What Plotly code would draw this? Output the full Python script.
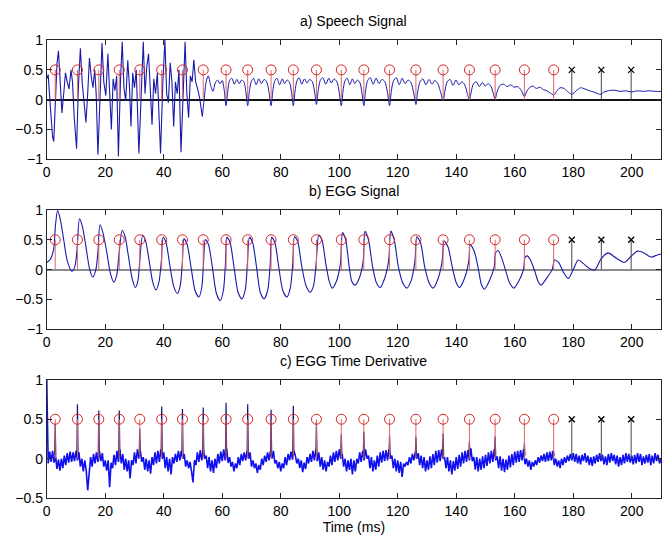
import plotly.graph_objects as go

# ---------------- data ----------------
gci_t = [2.9, 10.5, 17.8, 24.8, 31.8, 39.3, 46.4, 53.5, 61.3, 68.7, 76.7, 84.3, 92.2,
         100.7, 108.4, 117.2, 126.2, 135.5, 144.5, 153.3, 163.3, 173.3]
missed_t = [179.5, 189.6, 199.8]
mark_level = 0.5

# a) speech signal, irregular high-amplitude part
speech_early = [
    (0.0, 0.35), (0.5, 0.42), (1.2, -0.1), (2.0, -0.62), (2.4, -0.7), (3.0, 0.1), (3.5, 0.6),
    (4.0, 0.82), (4.6, 0.3), (5.2, -0.22), (5.8, 0.1), (6.4, 0.45), (7.0, 0.3), (7.6, 0.18),
    (8.3, 0.5), (8.8, 0.3), (9.4, -0.3), (10.2, -0.82), (10.8, 0.2), (11.5, 0.86), (12.1, 0.3),
    (12.8, -0.05), (13.4, -0.38), (14.0, 0.1), (14.6, 0.7), (15.2, 0.4), (15.8, 0.2), (16.4, 0.5),
    (16.9, 0.1), (17.5, -0.92), (18.2, 0.2), (18.9, 0.95), (19.5, 0.3), (20.2, 0.07), (20.9, 0.77),
    (21.5, 0.2), (22.1, -0.5), (22.7, 0.35), (23.3, 0.15), (23.9, 0.4), (24.5, -0.95), (25.2, 0.3),
    (25.8, 0.97), (26.4, 0.2), (27.0, -0.02), (27.7, 0.66), (28.3, 0.2), (28.8, -0.45), (29.4, 0.45),
    (30.0, 0.2), (30.6, 0.5), (31.5, -0.9), (32.3, 0.3), (33.0, 0.97), (33.6, 0.1), (34.2, 0.55),
    (34.8, 0.77), (35.4, 0.1), (36.0, -0.42), (36.6, 0.35), (37.2, 0.1), (37.8, 0.45), (38.9, -0.9),
    (39.7, 0.3), (40.4, 1.0), (41.0, 0.1), (41.6, -0.05), (42.2, 0.62), (42.8, 0.3), (43.4, -0.45),
    (44.0, 0.3), (44.6, 0.1), (45.2, 0.5), (45.9, -0.88), (46.6, 0.2), (47.3, 0.97), (47.9, 0.1),
    (48.5, -0.3), (49.1, 0.4), (49.7, 0.3), (50.3, 0.67), (50.9, 0.3), (51.5, 0.2), (52.2, 0.05),
    (52.8, -0.15), (53.2, -0.28),
]

# a) speech signal, quasi-periodic part
speech_late = [
    (53.2, -0.28), (53.8, 0.0), (54.5, 0.3), (55.2, 0.4), (56.0, 0.25), (56.8, 0.14), (57.6, 0.28),
    (58.4, 0.33), (59.2, 0.27), (60.0, 0.32), (60.7, 0.15), (61.3, -0.1),
    (61.9, 0.15), (62.5, 0.32), (63.3, 0.36), (64.1, 0.26), (65.0, 0.34), (65.8, 0.27), (66.6, 0.33),
    (67.4, 0.3), (68.1, 0.12), (68.7, -0.1),
    (69.3, 0.15), (69.9, 0.3), (70.7, 0.36), (71.6, 0.25), (72.5, 0.35), (73.4, 0.27), (74.3, 0.34),
    (75.2, 0.3), (76.0, 0.12), (76.7, -0.1),
    (77.3, 0.15), (77.9, 0.31), (78.7, 0.36), (79.6, 0.25), (80.5, 0.35), (81.3, 0.27), (82.2, 0.33),
    (83.0, 0.29), (83.7, 0.12), (84.3, -0.1),
    (84.9, 0.15), (85.5, 0.31), (86.3, 0.37), (87.2, 0.26), (88.1, 0.35), (89.0, 0.28), (89.9, 0.34),
    (90.8, 0.3), (91.6, 0.12), (92.2, -0.08),
    (92.8, 0.15), (93.5, 0.32), (94.4, 0.37), (95.4, 0.26), (96.4, 0.36), (97.3, 0.28), (98.2, 0.35),
    (99.2, 0.3), (100.0, 0.12), (100.7, -0.1),
    (101.3, 0.15), (101.9, 0.31), (102.7, 0.36), (103.6, 0.25), (104.5, 0.35), (105.3, 0.27),
    (106.2, 0.33), (107.1, 0.28), (107.8, 0.1), (108.4, -0.1),
    (109.0, 0.15), (109.7, 0.32), (110.6, 0.37), (111.6, 0.26), (112.6, 0.36), (113.6, 0.27),
    (114.6, 0.34), (115.6, 0.3), (116.5, 0.12), (117.2, -0.1),
    (117.8, 0.14), (118.5, 0.31), (119.5, 0.37), (120.5, 0.25), (121.5, 0.36), (122.5, 0.27),
    (123.5, 0.33), (124.5, 0.29), (125.5, 0.1), (126.2, -0.08),
    (126.8, 0.13), (127.6, 0.3), (128.6, 0.35), (129.6, 0.25), (130.7, 0.34), (131.7, 0.26),
    (132.7, 0.32), (133.7, 0.27), (134.8, 0.1), (135.5, -0.02),
    (136.1, 0.14), (136.9, 0.3), (137.9, 0.34), (138.9, 0.24), (139.9, 0.33), (140.9, 0.25),
    (141.9, 0.3), (142.9, 0.25), (143.8, 0.1), (144.5, 0.0),
    (145.1, 0.13), (145.9, 0.27), (146.9, 0.3), (147.9, 0.22), (148.9, 0.29), (149.9, 0.23),
    (150.9, 0.27), (151.9, 0.22), (152.7, 0.1), (153.3, 0.01),
    (154.0, 0.14), (155.0, 0.24), (156.2, 0.26), (157.4, 0.22), (158.6, 0.25), (159.8, 0.21),
    (161.0, 0.22), (162.2, 0.16), (163.3, 0.05),
    (164.0, 0.13), (165.0, 0.2), (166.2, 0.23), (167.4, 0.19), (168.6, 0.21), (169.8, 0.17),
    (171.0, 0.15), (172.2, 0.11), (173.3, 0.08),
    (174.3, 0.14), (175.5, 0.2), (176.8, 0.19), (178.0, 0.14), (179.5, 0.09), (181.0, 0.15),
    (182.5, 0.2), (184.0, 0.18), (185.5, 0.15), (187.0, 0.13), (188.5, 0.1), (189.5, 0.09),
    (190.5, 0.13), (192.0, 0.15), (194.0, 0.16), (196.0, 0.14), (198.0, 0.15), (200.0, 0.13),
    (202.0, 0.15), (204.0, 0.14), (206.0, 0.15), (208.0, 0.14), (210.0, 0.14),
]

# b) EGG signal
egg = [
    (0.0, 0.12), (0.8, 0.15), (1.5, 0.2), (2.4, 0.35), (3.0, 0.75), (3.7, 0.99), (4.6, 0.85),
    (5.8, 0.5), (7.0, 0.15), (8.6, -0.03), (9.6, 0.05), (10.3, 0.3), (11.2, 0.85), (12.2, 0.72),
    (13.5, 0.35), (14.6, 0.02), (15.7, -0.125), (16.8, 0.0), (17.5, 0.3), (18.2, 0.75), (19.2, 0.62),
    (20.5, 0.3), (21.7, -0.05), (22.9, -0.21), (23.9, -0.1), (24.6, 0.2), (25.8, 0.66), (26.8, 0.55),
    (28.0, 0.2), (29.2, -0.15), (30.3, -0.30), (31.2, -0.18), (31.8, 0.15), (32.8, 0.58), (33.8, 0.48),
    (35.0, 0.15), (36.2, -0.2), (37.3, -0.34), (38.4, -0.2), (39.2, 0.15), (39.8, 0.54), (40.8, 0.45),
    (42.0, 0.1), (43.4, -0.28), (44.7, -0.40), (45.7, -0.25), (46.4, 0.15), (46.9, 0.52), (48.0, 0.42),
    (49.3, 0.05), (50.7, -0.35), (52.0, -0.46), (53.0, -0.3), (53.6, 0.1), (54.2, 0.50), (55.3, 0.42),
    (56.6, 0.05), (58.0, -0.4), (59.3, -0.52), (60.4, -0.35), (61.1, 0.1), (61.6, 0.54), (62.7, 0.45),
    (64.0, 0.05), (65.4, -0.38), (66.7, -0.49), (67.9, -0.33), (68.6, 0.1), (69.3, 0.54), (70.4, 0.45),
    (71.7, 0.05), (73.0, -0.38), (74.3, -0.49), (75.6, -0.33), (76.4, 0.1), (76.9, 0.54), (78.0, 0.45),
    (79.3, 0.05), (80.7, -0.35), (82.1, -0.46), (83.3, -0.3), (84.1, 0.1), (84.7, 0.55), (85.8, 0.47),
    (87.2, 0.05), (88.7, -0.28), (90.1, -0.38), (91.3, -0.25), (92.1, 0.1), (93.0, 0.58), (94.1, 0.5),
    (95.4, 0.1), (96.6, -0.2), (97.6, -0.31), (99.0, -0.2), (100.4, 0.1), (101.1, 0.62), (102.2, 0.5),
    (103.4, 0.05), (104.3, -0.2), (105.4, -0.26), (106.8, -0.15), (108.2, 0.15), (108.8, 0.64),
    (110.0, 0.5), (111.4, 0.05), (112.7, -0.22), (114.0, -0.30), (115.5, -0.15), (116.9, 0.15),
    (117.6, 0.645), (118.8, 0.5), (120.2, 0.05), (121.7, -0.22), (123.1, -0.31), (124.6, -0.18),
    (125.9, 0.15), (126.5, 0.55), (127.8, 0.45), (129.2, 0.05), (130.7, -0.22), (132.1, -0.31),
    (133.8, -0.15), (135.2, 0.15), (135.8, 0.48), (137.2, 0.38), (138.6, 0.05), (140.0, -0.22),
    (141.1, -0.30), (142.8, -0.15), (144.3, 0.15), (144.8, 0.42), (146.2, 0.3), (147.6, 0.0),
    (148.6, -0.25), (149.6, -0.33), (151.2, -0.2), (153.0, 0.05), (153.4, 0.28), (154.3, 0.32),
    (155.5, 0.2), (156.8, 0.0), (158.3, -0.23), (159.7, -0.31), (161.3, -0.2), (163.0, 0.0),
    (163.5, 0.2), (164.2, 0.23), (165.5, 0.15), (167.0, -0.05), (168.0, -0.2), (169.0, -0.26),
    (170.8, -0.15), (172.8, 0.0), (173.6, 0.16), (175.0, 0.12), (176.7, -0.05), (178.3, -0.15),
    (180.0, 0.0), (181.7, 0.16), (183.5, 0.1), (185.5, 0.02), (187.4, -0.005), (189.5, 0.18),
    (191.9, 0.28), (194.5, 0.2), (197.5, 0.12), (199.7, 0.22), (202.0, 0.31), (204.5, 0.27),
    (206.5, 0.21), (208.5, 0.24), (210.0, 0.26),
]

# c) EGG time derivative: background samples every 0.5 ms from t = 0
deriv_dt = 0.5
deriv_vals = [
    1.0, -0.06, 0.09, -0.04, 0.1, -0.05, 0.04, -0.13, -0.01, -0.15, 0.0, -0.12, 0.04, -0.08, 0.07, -0.05, 0.09, -0.04, 0.08, -0.03,
    0.1, -0.02, 0.08, -0.1, 0.0, -0.16, -0.02, -0.15, -0.4, -0.12, 0.02, -0.1, 0.06, -0.06, 0.08, -0.04, 0.1, -0.03, 0.07, -0.1,
    -0.02, -0.15, -0.02, -0.36, -0.05, -0.12, 0.05, -0.08, 0.1, -0.04, 0.12, -0.06, 0.06, -0.14, 0.0, -0.16, -0.02, -0.25, -0.02, -0.08,
    0.08, -0.06, 0.12, 0.0, 0.1, -0.04, 0.02, -0.14, 0.0, -0.16, -0.02, -0.19, 0.02, -0.08, 0.08, -0.06, 0.1, -0.04, 0.12, 0.0,
    0.08, -0.12, 0.02, -0.16, 0.0, -0.2, 0.02, -0.06, 0.06, -0.04, 0.1, -0.02, 0.1, 0.0, 0.06, -0.1, -0.02, -0.12, -0.04, -0.16,
    -0.3, -0.02, -0.08, 0.08, -0.04, 0.11, -0.02, 0.12, 0.0, 0.04, -0.12, 0.02, -0.16, -0.02, -0.18, 0.0, -0.12, 0.06, -0.06, 0.09,
    -0.03, 0.12, -0.02, 0.13, -0.05, 0.02, -0.1, -0.04, -0.16, -0.06, -0.12, 0.02, -0.08, 0.06, -0.03, 0.08, -0.02, 0.1, 0.0, 0.08,
    -0.1, -0.02, -0.12, -0.06, -0.18, -0.08, -0.14, 0.0, -0.08, 0.04, -0.04, 0.08, -0.02, 0.1, 0.0, 0.1, -0.06, -0.02, -0.12, -0.04,
    -0.16, -0.06, -0.12, 0.02, -0.08, 0.06, -0.02, 0.09, -0.01, 0.1, 0.04, -0.06, 0.0, -0.12, -0.02, -0.17, -0.05, -0.13, 0.02, -0.06,
    0.06, -0.04, 0.1, -0.02, 0.12, -0.03, 0.08, -0.1, 0.02, -0.14, -0.02, -0.16, -0.04, -0.1, 0.04, -0.08, 0.08, -0.04, 0.1, -0.02,
    0.12, 0.0, 0.06, -0.1, 0.0, -0.16, -0.02, -0.14, 0.0, -0.2, -0.02, -0.16, 0.0, -0.06, 0.08, -0.04, 0.1, -0.02, 0.12, 0.0,
    0.04, -0.12, 0.02, -0.16, -0.02, -0.14, 0.04, -0.1, 0.08, -0.05, 0.1, -0.03, 0.11, -0.02, 0.12, 0.0, 0.04, -0.12, 0.0, -0.16,
    -0.02, -0.18, -0.04, -0.23, -0.06, -0.1, -0.04, -0.08, 0.02, -0.06, 0.06, -0.02, 0.08, 0.0, 0.07, -0.08, 0.04, -0.12, 0.02, -0.16,
    -0.02, -0.14, 0.03, -0.12, 0.06, -0.08, 0.1, -0.05, 0.11, -0.03, 0.12, 0.0, 0.02, -0.12, 0.02, -0.16, -0.02, -0.2, -0.03, -0.15,
    0.02, -0.13, 0.05, -0.1, 0.08, -0.06, 0.1, -0.04, 0.11, -0.02, 0.13, -0.03, 0.02, -0.14, 0.02, -0.16, 0.0, -0.14, 0.03, -0.12,
    0.05, -0.09, 0.08, -0.06, 0.1, -0.04, 0.12, -0.02, 0.03, -0.12, 0.03, -0.15, 0.0, -0.17, -0.01, -0.14, 0.04, -0.11, 0.06, -0.08,
    0.09, -0.05, 0.1, -0.04, 0.11, -0.02, 0.12, -0.07, 0.0, -0.1, -0.02, -0.14, -0.04, -0.1, -0.02, -0.08, 0.02, -0.05, 0.04, -0.03,
    0.06, -0.04, 0.08, -0.03, 0.09, -0.02, 0.1, -0.08, 0.0, -0.1, -0.02, -0.12, 0.0, -0.08, 0.02, -0.05, 0.04, -0.03, 0.06, -0.02,
    0.07, -0.04, 0.06, -0.06, 0.04, -0.07, 0.05, -0.03, 0.07, -0.05, 0.04, -0.08, 0.02, -0.09, 0.03, -0.06, 0.05, -0.04, 0.07, -0.03,
    0.05, -0.07, 0.03, -0.08, 0.06, -0.05, 0.07, -0.03, 0.05, -0.07, 0.04, -0.1, 0.02, -0.08, 0.05, -0.06, 0.07, -0.04, 0.06, -0.05,
    0.04, -0.07, 0.05, -0.06, 0.07, -0.04, 0.06, -0.08, 0.03, -0.06, 0.05, -0.05, 0.06, -0.08, 0.04, -0.06, 0.07, -0.03, 0.05, -0.06,
    0.0,
]
# positive derivative peaks at the closure instants
deriv_peak_h = [0.44, 0.69, 0.61, 0.61, 0.38, 0.66, 0.63, 0.65, 0.71, 0.69, 0.62, 0.67, 0.47,
                0.31, 0.34, 0.30, 0.28, 0.32, 0.22, 0.28, 0.20, 0.09]

titles = ["a) Speech Signal", "b) EGG Signal", "c) EGG Time Derivative"]
x_label = "Time (ms)"

# ---------------- figure ----------------
W, H = 662, 546
FONT = "Liberation Sans, Arial, Helvetica, sans-serif"
SIG = "rgb(25,25,170)"
RED = "rgb(215,35,35)"
RED_STEM = "rgb(225,100,100)"
AX = "rgb(35,35,35)"

fig = go.Figure()

def stems(times, top):
    xs, ys = [], []
    for t in times:
        xs += [t, t, None]
        ys += [0, top, None]
    return xs, ys

def add_markers(ax):
    xa, ya = ("x", "y") if ax == 1 else (f"x{ax}", f"y{ax}")
    sx, sy = stems(gci_t, mark_level)
    fig.add_trace(go.Scatter(x=sx, y=sy, mode="lines", line=dict(color=RED_STEM, width=1),
                             xaxis=xa, yaxis=ya, hoverinfo="skip"))
    mx, my = stems(missed_t, mark_level)
    fig.add_trace(go.Scatter(x=mx, y=my, mode="lines", line=dict(color="rgb(70,70,70)", width=1),
                             xaxis=xa, yaxis=ya, hoverinfo="skip"))
    fig.add_trace(go.Scatter(x=gci_t, y=[mark_level] * len(gci_t), mode="markers",
                             marker=dict(symbol="circle-open", size=10, color=RED, line=dict(width=1)),
                             xaxis=xa, yaxis=ya))
    fig.add_trace(go.Scatter(x=missed_t, y=[mark_level] * len(missed_t), mode="markers",
                             marker=dict(symbol="x-thin", size=6, color="black",
                                         line=dict(width=1.3, color="black")),
                             xaxis=xa, yaxis=ya))

# panel a
fig.add_trace(go.Scatter(x=[p[0] for p in speech_early], y=[p[1] for p in speech_early],
                         mode="lines", line=dict(color=SIG, width=1.1), xaxis="x", yaxis="y"))
fig.add_trace(go.Scatter(x=[p[0] for p in speech_late], y=[p[1] for p in speech_late],
                         mode="lines", line=dict(color=SIG, width=1, shape="spline", smoothing=0.8),
                         xaxis="x", yaxis="y"))
add_markers(1)

# panel b
fig.add_trace(go.Scatter(x=[p[0] for p in egg], y=[p[1] for p in egg], mode="lines",
                         line=dict(color=SIG, width=1.1, shape="spline", smoothing=0.7),
                         xaxis="x2", yaxis="y2"))
add_markers(2)

# panel c
deriv_t = [i * deriv_dt for i in range(len(deriv_vals))]
fig.add_trace(go.Scatter(x=deriv_t, y=deriv_vals, mode="lines",
                         line=dict(color="rgb(15,15,240)", width=1.6), xaxis="x3", yaxis="y3"))
px, py = [], []
for t, h in zip(gci_t, deriv_peak_h):
    px += [t - 0.2, t, t + 0.2, None]
    py += [0.04, h, 0.04, None]
fig.add_trace(go.Scatter(x=px, y=py, mode="lines", line=dict(color="rgb(20,20,120)", width=1.2),
                         xaxis="x3", yaxis="y3"))
add_markers(3)

L = 43
xdom = [L / W, 661 / W]
panels = [(33, 156, [-1, 1]), (208, 331, [-1, 1]), (383, 505, [-0.5, 1])]

common_x = dict(range=[0, 210], domain=xdom, showgrid=False, zeroline=False,
                showline=True, linecolor=AX, linewidth=1, mirror="ticks",
                ticks="inside", ticklen=5, tickcolor=AX, tickmode="array",
                tickvals=list(range(0, 201, 20)),
                tickfont=dict(family=FONT, size=14, color="black"))
for i, (top, bot, yr) in enumerate(panels, start=1):
    ydom = [1 - bot / H, 1 - top / H]
    xa = dict(common_x, anchor=f"y{i}" if i > 1 else "y")
    ya = dict(range=yr, domain=ydom, showgrid=False,
              showline=True, linecolor=AX, linewidth=1, mirror="ticks",
              ticks="inside", ticklen=5, tickcolor=AX, dtick=0.5, tick0=0,
              tickfont=dict(family=FONT, size=14, color="black"),
              anchor=f"x{i}" if i > 1 else "x")
    if i == 1:
        ya.update(zeroline=True, zerolinecolor="rgb(20,20,20)", zerolinewidth=1.5)
    elif i == 2:
        ya.update(zeroline=True, zerolinecolor="rgb(140,140,140)", zerolinewidth=1.5)
    else:
        ya.update(zeroline=False)
    key = "" if i == 1 else str(i)
    fig.layout["xaxis" + key] = xa
    fig.layout["yaxis" + key] = ya
    fig.add_annotation(text=titles[i - 1], xref="paper", yref="paper",
                       x=(xdom[0] + xdom[1]) / 2, y=1 - top / H, yshift=9,
                       xanchor="center", yanchor="bottom", showarrow=False,
                       font=dict(family=FONT, size=14, color="black"))

fig.layout.xaxis3.title = dict(text=x_label, standoff=4,
                               font=dict(family=FONT, size=14, color="black"))

fig.update_layout(width=W, height=H, margin=dict(l=0, r=0, t=0, b=0),
                  paper_bgcolor="white", plot_bgcolor="white", showlegend=False)

fig.write_html("out.html",
               post_script="document.body.style.margin='0';document.body.style.overflow='hidden';")
